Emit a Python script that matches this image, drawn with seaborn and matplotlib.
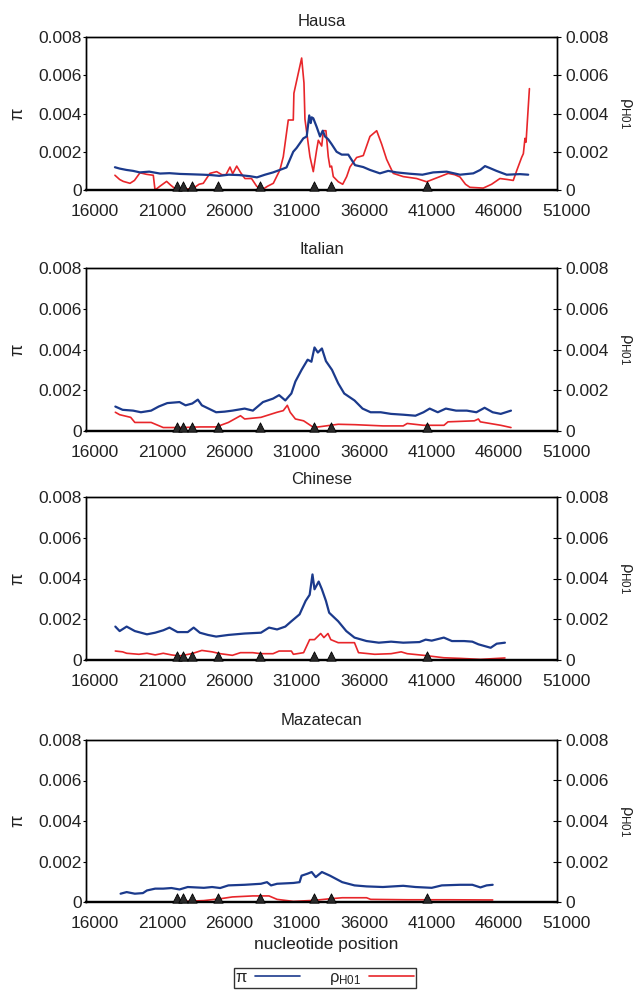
import pandas as pd
import matplotlib.pyplot as plt
import matplotlib.lines as mlines
import matplotlib.transforms as mtransforms
import seaborn as sns

# x positions of the markers on the axis (same for every panel)
marker_pos = [22740, 23240, 23880, 25800, 28940, 32940, 34240, 41320]

# Hausa
hausa_pi_x = [18150, 18500, 19000, 19500, 20000, 20700, 21500, 22200, 23000, 23900, 24700, 25300,
              25900, 26600, 27400, 28200, 28700, 29300, 29900, 30600, 30900, 31400, 31650, 32150,
              32400, 32590, 32700, 32770, 32890, 33140, 33390, 33590, 33760, 34000, 34250, 34620,
              35000, 35490, 35990, 36600, 37100, 37840, 38460, 39080, 40070, 41000, 41800, 42800,
              43790, 44780, 45300, 45650, 46000, 46500, 47260, 48250, 48860]
hausa_pi_y = [0.00119, 0.00112, 0.00105, 0.00100, 0.00092, 0.00096, 0.00086, 0.00088, 0.00084, 0.00082,
              0.00080, 0.00078, 0.00074, 0.00080, 0.00078, 0.00072, 0.00066, 0.00080, 0.00092, 0.00110,
              0.00118, 0.00200, 0.00220, 0.00270, 0.00280, 0.00390, 0.00350, 0.00380, 0.00375, 0.00330,
              0.00280, 0.00310, 0.00280, 0.00265, 0.00240, 0.00200, 0.00185, 0.00185, 0.00130, 0.00120,
              0.00105, 0.00087, 0.00100, 0.00092, 0.00085, 0.00080, 0.00092, 0.00096, 0.00080, 0.00087,
              0.00105, 0.00125, 0.00115, 0.00100, 0.00080, 0.00083, 0.00080]
hausa_rho_x = [18150, 18500, 18770, 19270, 19600, 20010, 20500, 21000, 21130, 21500, 21990, 22300,
               22740, 23500, 24000, 24400, 24715, 25210, 25710, 26100, 26400, 26700, 26900, 27200,
               27500, 27810, 28300, 28680, 29050, 29500, 29920, 30410, 30660, 31031, 31403, 31450,
               31774, 32025, 32197, 32270, 32643, 32890, 33140, 33264, 33515, 33637, 33830, 34003,
               34129, 34250, 34376, 34748, 35075, 35370, 35615, 36110, 36605, 37100, 37600, 37970,
               38340, 38830, 39575, 40570, 41313, 42300, 42920, 43400, 43790, 44200, 44530, 45520,
               46140, 46760, 47300, 47750, 48000, 48370, 48500, 48620, 48700, 48950]
hausa_rho_y = [0.00077, 0.00055, 0.00045, 0.00035, 0.00050, 0.00090, 0.00082, 0.00077, 0.00000, 0.00020,
               0.00045, 0.00025, 0.00000, 0.00005, 0.00010, 0.00030, 0.00035, 0.00087, 0.00096, 0.00080,
               0.00080, 0.00120, 0.00085, 0.00125, 0.00090, 0.00060, 0.00060, 0.00020, 0.00000, 0.00020,
               0.00035, 0.00105, 0.00174, 0.00366, 0.00366, 0.00506, 0.00610, 0.00690, 0.00560, 0.00370,
               0.00174, 0.00096, 0.00210, 0.00260, 0.00230, 0.00310, 0.00310, 0.00174, 0.00120, 0.00125,
               0.00070, 0.00043, 0.00030, 0.00070, 0.00120, 0.00170, 0.00180, 0.00280, 0.00310, 0.00240,
               0.00160, 0.00087, 0.00070, 0.00060, 0.00043, 0.00070, 0.00087, 0.00080, 0.00068, 0.00030,
               0.00014, 0.00010, 0.00030, 0.00060, 0.00055, 0.00050, 0.00100, 0.00170, 0.00190, 0.00270,
               0.00250, 0.00530]

# Italian
italian_pi_x = [18180, 18720, 19500, 20080, 20840, 21400, 22040, 22950, 23400, 23900, 24310, 24610,
                25670, 26300, 26880, 27790, 28400, 29150, 29900, 30350, 30810, 31260, 31560, 32020,
                32470, 32750, 32980, 33230, 33530, 33830, 34280, 34740, 35190, 35950, 36550, 37150,
                37900, 38660, 39570, 40480, 41080, 41540, 42140, 42740, 43500, 44300, 45010, 45620,
                46220, 46820, 47580]
italian_pi_y = [0.00120, 0.00104, 0.00100, 0.00092, 0.00100, 0.00120, 0.00137, 0.00142, 0.00126, 0.00135,
                0.00154, 0.00126, 0.00092, 0.00095, 0.00100, 0.00110, 0.00100, 0.00142, 0.00159, 0.00176,
                0.00150, 0.00184, 0.00243, 0.00300, 0.00350, 0.00340, 0.00410, 0.00385, 0.00405, 0.00343,
                0.00300, 0.00234, 0.00184, 0.00150, 0.00110, 0.00092, 0.00092, 0.00084, 0.00080, 0.00075,
                0.00092, 0.00110, 0.00092, 0.00110, 0.00100, 0.00100, 0.00092, 0.00114, 0.00092, 0.00084,
                0.00100]
italian_rho_x = [18180, 18500, 19320, 19630, 20840, 21740, 23000, 24500, 25670, 26580, 27480, 27790,
                 29000, 30200, 30660, 30960, 31170, 31560, 32170, 32920, 33830, 34740, 36000, 38060,
                 39570, 39870, 41080, 42600, 42900, 44860, 45160, 45300, 46820, 47580]
italian_rho_y = [0.00092, 0.00080, 0.00067, 0.00042, 0.00042, 0.00017, 0.00017, 0.00020, 0.00020, 0.00042,
                 0.00075, 0.00059, 0.00067, 0.00092, 0.00100, 0.00126, 0.00092, 0.00059, 0.00050, 0.00017,
                 0.00025, 0.00033, 0.00031, 0.00025, 0.00025, 0.00037, 0.00028, 0.00028, 0.00045, 0.00050,
                 0.00059, 0.00045, 0.00028, 0.00017]

# Chinese
chinese_pi_x = [18180, 18500, 19020, 19630, 20530, 21140, 21750, 22200, 22800, 23560, 24000, 24460,
                25060, 25670, 26580, 27790, 29000, 29600, 30200, 30810, 31260, 31870, 32320, 32620,
                32830, 32980, 33290, 33530, 33830, 34070, 34740, 35340, 35950, 36850, 37760, 38670,
                39570, 40780, 41240, 41690, 42590, 43190, 44100, 44710, 45160, 46070, 46520, 47130]
chinese_pi_y = [0.00164, 0.00142, 0.00164, 0.00142, 0.00126, 0.00134, 0.00146, 0.00159, 0.00137, 0.00137,
                0.00159, 0.00134, 0.00123, 0.00115, 0.00123, 0.00130, 0.00134, 0.00159, 0.00150, 0.00164,
                0.00190, 0.00224, 0.00290, 0.00320, 0.00420, 0.00347, 0.00385, 0.00347, 0.00290, 0.00232,
                0.00190, 0.00142, 0.00110, 0.00093, 0.00085, 0.00090, 0.00085, 0.00088, 0.00100, 0.00095,
                0.00110, 0.00093, 0.00093, 0.00090, 0.00077, 0.00060, 0.00080, 0.00085]
chinese_rho_x = [18180, 18720, 19020, 19930, 20530, 21140, 21740, 22350, 22950, 23860, 24610, 25370,
                 25970, 26880, 27480, 28390, 29000, 29900, 30350, 31260, 31410, 32170, 32620, 32980,
                 33440, 33680, 33980, 34190, 34740, 35950, 36250, 37460, 38670, 39420, 39870, 41080,
                 42590, 43800, 45310, 47130]
chinese_rho_y = [0.00044, 0.00040, 0.00033, 0.00028, 0.00033, 0.00025, 0.00033, 0.00025, 0.00020, 0.00031,
                 0.00047, 0.00040, 0.00031, 0.00023, 0.00036, 0.00036, 0.00031, 0.00031, 0.00044, 0.00044,
                 0.00028, 0.00036, 0.00100, 0.00100, 0.00130, 0.00110, 0.00130, 0.00100, 0.00085, 0.00085,
                 0.00036, 0.00028, 0.00031, 0.00040, 0.00031, 0.00023, 0.00011, 0.00008, 0.00003, 0.00010]

# Mazatecan
mazatecan_pi_x = [18570, 19020, 19630, 20230, 20530, 21140, 21740, 22350, 22950, 23560, 24760, 25370,
                  25970, 26580, 27790, 29000, 29450, 29750, 30200, 31410, 31870, 32020, 32470, 32770,
                  33070, 33530, 34130, 35040, 35950, 36850, 38060, 39570, 40480, 41690, 42440, 43800,
                  44710, 45310, 45770, 46220]
mazatecan_pi_y = [0.00041, 0.00049, 0.00041, 0.00044, 0.00057, 0.00066, 0.00066, 0.00069, 0.00062, 0.00074,
                  0.00070, 0.00074, 0.00069, 0.00082, 0.00085, 0.00090, 0.00098, 0.00082, 0.00090, 0.00094,
                  0.00098, 0.00130, 0.00140, 0.00148, 0.00123, 0.00148, 0.00130, 0.00098, 0.00082, 0.00077,
                  0.00074, 0.00080, 0.00074, 0.00070, 0.00082, 0.00085, 0.00085, 0.00072, 0.00082, 0.00085]
mazatecan_rho_x = [18570, 22350, 24760, 25970, 26880, 28390, 29600, 30200, 31410, 32920, 34130, 35040,
                   36850, 37150, 39870, 43000, 46220]
mazatecan_rho_y = [0.00000, 0.00000, 0.00007, 0.00016, 0.00025, 0.00030, 0.00030, 0.00013, 0.00003, 0.00008,
                   0.00016, 0.00021, 0.00021, 0.00013, 0.00011, 0.00011, 0.00010]

# name, pi x, pi y, rho x, rho y, axes top px, axes bottom px, title pad
panels = [
    ("Hausa", hausa_pi_x, hausa_pi_y, hausa_rho_x, hausa_rho_y, 37, 190, 8),
    ("Italian", italian_pi_x, italian_pi_y, italian_rho_x, italian_rho_y, 268, 431, 10),
    ("Chinese", chinese_pi_x, chinese_pi_y, chinese_rho_x, chinese_rho_y, 497, 660, 9),
    ("Mazatecan", mazatecan_pi_x, mazatecan_pi_y, mazatecan_rho_x, mazatecan_rho_y, 740, 902, 11),
]

sns.set_style("white")
plt.rcParams['font.family'] = ['Liberation Sans', 'DejaVu Sans']
plt.rcParams['mathtext.fontset'] = 'custom'
plt.rcParams['mathtext.rm'] = 'Liberation Sans'
plt.rcParams['mathtext.it'] = 'Liberation Sans'

BLUE = "#1b3a8c"
RED = "#e8262a"
TXT = "#222222"
W, H = 639, 991

fig = plt.figure(figsize=(W / 100, H / 100), dpi=100)
shift = mtransforms.ScaledTranslation(9 / 100, 0, fig.dpi_scale_trans)

for name, px, py, rx, ry, top, bot, pad in panels:
    ax = fig.add_axes([86 / W, 1 - bot / H, 471 / W, (bot - top) / H])
    ax2 = ax.twinx()
    sns.lineplot(x=px, y=py, ax=ax, color=BLUE, lw=1.6, sort=False, estimator=None, zorder=3)
    sns.lineplot(x=rx, y=ry, ax=ax2, color=RED, lw=1.2, sort=False, estimator=None, zorder=2)
    ax.set_zorder(ax2.get_zorder() + 1)
    ax.patch.set_visible(False)

    ax.scatter(marker_pos, [0.00022] * len(marker_pos), marker="^", s=45, color="#2a2a2a",
               edgecolor="black", linewidth=0.6, zorder=5, clip_on=False)

    for a in (ax, ax2):
        a.set_xlim(16000, 51000)
        a.set_ylim(0, 0.008)
        a.set_yticks([0, 0.002, 0.004, 0.006, 0.008])
        a.set_yticklabels(["0", "0.002", "0.004", "0.006", "0.008"])
        for s in a.spines.values():
            s.set_color("black")
            s.set_linewidth(1.0)
        a.spines["bottom"].set_linewidth(1.6)
    ax.set_xticks(range(16000, 51001, 5000))
    ax.tick_params(axis="x", direction="out", length=4, width=0.8, colors="black",
                   labelcolor=TXT, labelsize=12.5, pad=6)
    for lab in ax.get_xticklabels():
        lab.set_transform(lab.get_transform() + shift)
    ax.tick_params(axis="y", direction="out", length=2.5, width=0.8, colors="black",
                   labelcolor=TXT, labelsize=12.5, pad=0.5)
    ax2.tick_params(axis="y", direction="inout", length=6, width=0.8, colors="black",
                    labelcolor=TXT, labelsize=12.5, pad=3)
    ax.set_title(name, fontsize=12, color=TXT, pad=pad)
    ax.set_xlabel("")
    ax.set_ylabel("π", fontsize=13, color=TXT, labelpad=9)
    ax2.set_ylabel(r"$\rho_{\mathrm{H01}}$", fontsize=12, color=TXT, rotation=270, labelpad=18)

fig.text(326 / W, 1 - 945 / H, "nucleotide position", ha="center", va="center",
         fontsize=12.5, color=TXT)

handles = [mlines.Line2D([], [], color=BLUE, lw=1.2), mlines.Line2D([], [], color=RED, lw=1.2)]
leg = fig.legend(handles, ["π", r"$\rho_{\mathrm{H01}}$"], loc="upper left",
                 bbox_to_anchor=(234 / W, 1 - 968 / H), borderaxespad=0, ncol=2, markerfirst=False,
                 frameon=True, fancybox=False, fontsize=12, handlelength=2.7,
                 columnspacing=1.7, borderpad=0.1, handletextpad=0.5)
leg.get_frame().set_edgecolor("black")
leg.get_frame().set_linewidth(1.0)

fig.savefig("out.png", dpi=100)
